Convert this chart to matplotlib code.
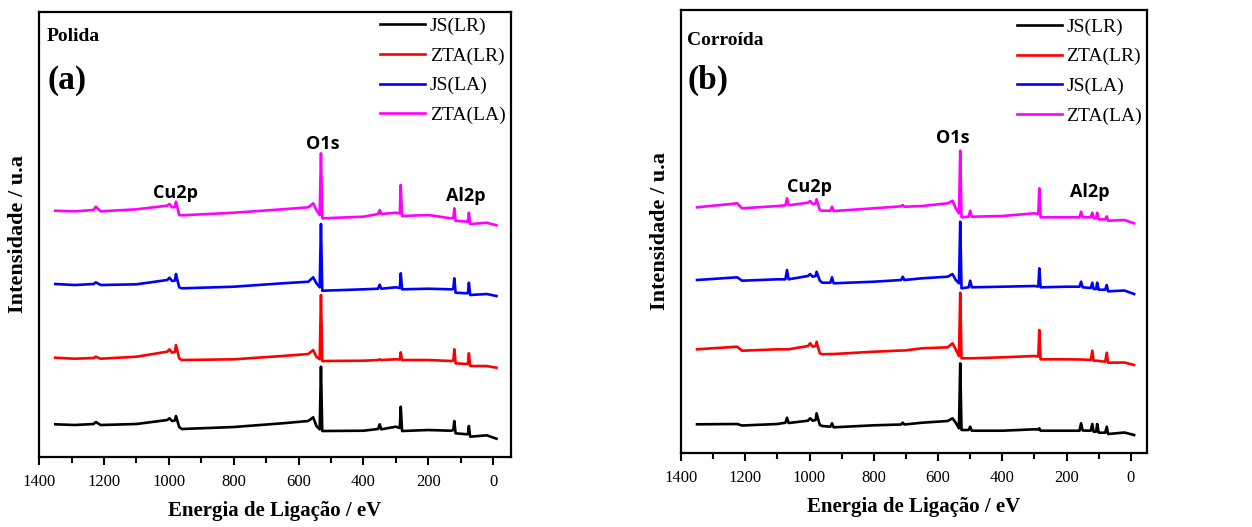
import matplotlib
matplotlib.use('Agg')
import matplotlib.pyplot as plt
from matplotlib.ticker import MultipleLocator

# binding energy grid (eV) and intensities (a.u.)
energy_a = [1350, 1290, 1232, 1225, 1210, 1100, 1005, 998, 990, 981, 978, 968, 960, 800, 650, 570, 555, 545, 535,
            531, 527, 400, 355, 350, 345, 300, 288, 285, 281, 200, 130, 123, 120, 116, 80, 78, 75, 71, 20, -10]
js_lr_a = [32.7, 32, 33, 35, 32, 33, 37, 38.7, 36, 36.5, 41, 30, 28, 30, 33.7, 36, 39.7, 31, 27.7,
           90.3, 26, 26.3, 28, 32.7, 27.7, 30.3, 29, 50.3, 26, 27, 26.3, 27, 36, 23.7, 22.7, 23, 31, 20.3, 21.7, 18.3]
zta_lr_a = [99.3, 98.3, 99, 100.3, 98.3, 100.3, 105.3, 107.7, 104.3, 105, 112, 98.7, 97, 97.7, 101, 103, 107, 100.3, 97.7,
            162, 96, 96.3, 97, 97.7, 97, 97.7, 97.5, 104.7, 97, 97, 96, 96.5, 107.7, 93.7, 93, 93, 103.7, 91, 91, 89.3]
js_la_a = [173, 172, 173, 174.7, 172, 172.7, 177, 179.3, 176, 176.5, 183, 169.7, 168.7, 170.3, 173.7, 175.3, 179.7, 173.7, 169.7,
           233, 166.3, 167.7, 168.3, 172.3, 168.3, 169.7, 169, 183.7, 167.7, 168.3, 167.7, 168, 178.7, 164.3, 163.7, 164, 174.3, 162, 163, 161]
zta_la_a = [246.3, 245.7, 247, 250.3, 245.7, 247.7, 251.3, 253, 249.7, 250, 255.3, 242, 241.7, 244.3, 247.7, 249.7, 253.7, 247, 242,
            303.7, 238.7, 240.3, 243, 247, 243, 244.3, 243.5, 272, 241, 242, 238.7, 239, 248.7, 236.3, 235.3, 235.5, 244.3, 233, 234.3, 231.7]

energy_b = [1350, 1225, 1210, 1100, 1075, 1070, 1065, 1005, 998, 990, 981, 978, 968, 960, 935, 930, 925, 800, 715, 710, 705,
            650, 570, 555, 545, 535, 531, 527, 505, 500, 495, 400, 300, 288, 285, 281, 200, 160, 155, 150, 125, 120, 116,
            108, 105, 100, 80, 75, 71, 20, -10]
js_lr_b = [28.7, 29, 27.5, 29, 30.3, 35.3, 30, 32.3, 34.7, 32.3, 33, 39.7, 28, 27, 26.3, 29.7, 25.7, 27.7, 28.5, 30.3, 28.5,
           30.3, 32, 34.7, 30.3, 24.7, 89.7, 23, 23, 26.3, 22.3, 22.3, 23.7, 23.5, 24.7, 22.3, 22.3, 22.3, 29.7, 22.5, 22.3, 29, 21.3,
           21.3, 29, 20.3, 20.3, 26.3, 19, 20.5, 18]
zta_lr_b = [103.7, 106.3, 102.3, 103.7, 103.7, 103.7, 103.7, 107, 109.7, 106.3, 107, 111.3, 99.7, 98.7, 99, 99, 99, 101.3, 102.5, 102.5, 102.5,
            104.7, 105.7, 109.7, 103.7, 97, 160.3, 94.7, 94.7, 94.7, 94.7, 95.7, 97, 96.5, 123, 93.7, 93.7, 93.5, 93.5, 93.5, 93, 102.3, 92.3,
            92.3, 92.3, 92, 91.3, 100.3, 90.3, 90.5, 88]
js_la_b = [173, 175.7, 172.3, 173.7, 173.7, 183, 173.7, 177, 179, 176.3, 177, 181.3, 172.3, 170.3, 170.3, 175.7, 169.7, 171.3, 173, 176.3, 173,
           174.7, 176.3, 179, 173, 169.7, 231.3, 164.7, 165.7, 172.3, 165.7, 166.3, 167, 166.5, 184.7, 165.7, 166.3, 166.3, 171.3, 165.7, 165, 170.3, 164,
           164, 170.3, 163.3, 163.3, 168, 161.7, 162.5, 159]
zta_la_b = [245.7, 249.7, 244.7, 247, 247.7, 254.7, 247.7, 250.3, 252, 249, 249.5, 253.7, 243, 242.3, 242.3, 246.3, 242, 244.7, 246.7, 248, 246.3,
            247, 249.7, 252.3, 244.7, 239.7, 302.3, 235.7, 236.3, 242.3, 236.3, 237, 239.7, 239, 264.7, 235.7, 235.7, 235.7, 241.3, 235.7, 235.7, 240.3, 234.7,
            234.7, 240.3, 233.7, 233.7, 236.7, 232.3, 233, 229.7]

labels = ['JS(LR)', 'ZTA(LR)', 'JS(LA)', 'ZTA(LA)']
colors = ['#000000', '#ff0000', '#0000ff', '#ff00ff']
peak_names = ['Cu2p', 'O1s', 'Al2p']

serif = 'Liberation Serif'

fig = plt.figure(figsize=(12.52, 5.27), dpi=100)
ax_a = fig.add_axes([0.0312, 0.1328, 0.377, 0.8444])
ax_b = fig.add_axes([0.5439, 0.1404, 0.3722, 0.8406])

panels = [
    (ax_a, energy_a, [js_lr_a, zta_lr_a, js_la_a, zta_la_a], 'Polida', '(a)', (1400, -55), 445,
     [(980, 264), (527, 313), (85, 261)], (0.017, 0.944, 0.847), (0.988, 0.988)),
    (ax_b, energy_b, [js_lr_b, zta_lr_b, js_la_b, zta_la_b], 'Corroída', '(b)', (1400, -50), 443,
     [(1000, 266), (554, 315), (127, 261)], (0.013, 0.932, 0.842), (0.99, 0.982)),
]

for ax, energy, series, cond, tag, xlim, ytop, peak_pos, txt, leg_at in panels:
    for vals, lab, col in zip(series, labels, colors):
        ax.plot(energy, vals, color=col, lw=1.9, label=lab)
    ax.set_xlim(*xlim)
    ax.set_ylim(0, ytop)
    ax.set_yticks([])
    ax.xaxis.set_major_locator(MultipleLocator(200))
    ax.xaxis.set_minor_locator(MultipleLocator(100))
    ax.tick_params(axis='x', which='both', direction='out', width=1.5)
    ax.tick_params(axis='x', which='major', length=6, labelsize=12, pad=6)
    ax.tick_params(axis='x', which='minor', length=4)
    for lbl in ax.get_xticklabels():
        lbl.set_fontfamily(serif)
    for s in ax.spines.values():
        s.set_linewidth(1.6)
    ax.set_xlabel('Energia de Ligação / eV', fontfamily=serif, fontweight='bold', fontsize=15, labelpad=8)
    ax.set_ylabel('Intensidade / u.a', fontfamily=serif, fontweight='bold', fontsize=16, labelpad=8)
    ax.text(txt[0], txt[1], cond, transform=ax.transAxes, fontfamily=serif, fontweight='bold',
            fontsize=14, va='center', ha='left')
    ax.text(txt[0], txt[2], tag, transform=ax.transAxes, fontfamily=serif, fontweight='bold',
            fontsize=24, va='center', ha='left')
    for name, (xe, yi) in zip(peak_names, peak_pos):
        ax.text(xe, yi, name, fontfamily='Open Sans', fontweight='bold', fontsize=13,
                ha='center', va='center')
    ax.legend(loc='upper right', bbox_to_anchor=leg_at, frameon=False,
              prop={'family': serif, 'size': 14}, handlelength=2.3, handletextpad=0.25,
              labelspacing=0.62, borderaxespad=0, borderpad=0)

fig.savefig('out.png', dpi=100)
